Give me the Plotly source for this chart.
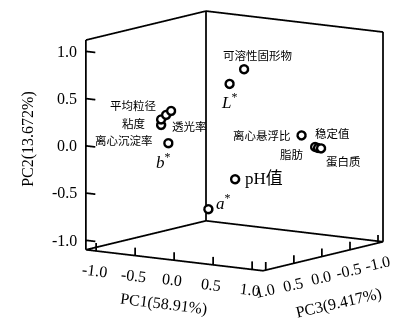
import plotly.graph_objects as go

# ---- data (PCA loadings) ----
names = ["可溶性固形物", "L*", "透光率", "平均粒径", "粘度", "离心沉淀率", "b*",
         "离心悬浮比", "稳定值", "脂肪", "蛋白质", "pH值", "a*"]
pc1 = [0.285, 0.171, -0.543, -0.643, -0.743, -0.779, -0.758,
       0.662, 0.836, 0.874, 0.912, 0.098, -0.173]
pc2 = [0.829, 0.677, 0.328, 0.269, 0.204, 0.135, -0.070,
       0.094, -0.011, -0.018, -0.019, -0.368, -0.697]
pc3 = [0.20, 0.30, 0.35, 0.30, 0.25, 0.20, 0.10,
       -0.30, -0.30, -0.30, -0.30, 0.10, 0.20]
tick_vals = [-1.0, -0.5, 0.0, 0.5, 1.0]
tick_text = ["-1.0", "-0.5", "0.0", "0.5", "1.0"]
pc1_range = [-1.13, 1.14]
pc2_range = [-1.10, 1.12]
pc3_range = [-1.09, 1.05]
titles = {"pc1": "PC1(58.91%)", "pc2": "PC2(13.672%)", "pc3": "PC3(9.417%)"}

# ---- label styling ----
display = {"L*": "<i>L</i><sup>*</sup>", "a*": "<i>a</i><sup>*</sup>",
           "b*": "<i>b</i><sup>*</sup>"}
big = {"L*", "a*", "b*", "pH值"}
lab_anchor = ["center", "center", "left", "right", "right", "right", "center",
              "right", "left", "right", "left", "left", "center"]
lab_dx = [13, -1, -1, -8, -13, -6, -5, -8, -2, -12, 3, 8, 15]
lab_dy = [14, -17, -16, 9, -4, -16, -18, 0, 13, -7, -13, 0, 7]

SERIF = "Liberation Serif, Times New Roman, serif"
CJK = "Liberation Serif, Noto Sans CJK SC, serif"

fig = go.Figure()

# ---- frame (back planes of the box) built from the axis ranges ----
x0, x1 = pc3_range
y0, y1 = pc1_range
z0, z1 = pc2_range
fx, fy, fz = [], [], []
def seg(a, b):
    fx.extend([a[0], b[0], None]); fy.extend([a[1], b[1], None]); fz.extend([a[2], b[2], None])
left_c, front_c, right_c, back_c = (x1, y0), (x1, y1), (x0, y1), (x0, y0)
for p, q in [(left_c, front_c), (front_c, right_c), (right_c, back_c), (back_c, left_c)]:
    seg((p[0], p[1], z0), (q[0], q[1], z0))
for p in [left_c, back_c, right_c]:
    seg((p[0], p[1], z0), (p[0], p[1], z1))
seg((left_c[0], left_c[1], z1), (back_c[0], back_c[1], z1))
seg((back_c[0], back_c[1], z1), (right_c[0], right_c[1], z1))
tz = 0.085 * (z1 - z0) / 2.22
ty = 0.12 * (y1 - y0) / 2.27
for t in tick_vals:
    seg((x1, t, z0), (x1, t, z0 + tz))          # PC1 ticks
    seg((t, y1, z0), (t, y1, z0 + tz))          # PC3 ticks
    seg((x1, y0, t), (x1, y0 + ty, t))          # PC2 ticks
fig.add_trace(go.Scatter3d(x=fx, y=fy, z=fz, mode="lines",
                           line=dict(color="black", width=3.5),
                           hoverinfo="skip", showlegend=False))

# open circles with a thick ring: black disc + smaller white disc on top
fig.add_trace(go.Scatter3d(
    x=pc3, y=pc1, z=pc2, mode="markers",
    marker=dict(symbol="circle", size=6, color="black", opacity=1,
                line=dict(width=0)),
    hoverinfo="skip", showlegend=False))
fig.add_trace(go.Scatter3d(
    x=pc3, y=pc1, z=pc2, mode="markers",
    marker=dict(symbol="circle", size=3.2, color="white", opacity=1,
                line=dict(width=0)),
    hoverinfo="skip", showlegend=False))

annotations = []
for i, n in enumerate(names):
    annotations.append(dict(
        x=pc3[i], y=pc1[i], z=pc2[i], text=display.get(n, n),
        showarrow=False, xanchor=lab_anchor[i], yanchor="middle",
        xshift=lab_dx[i], yshift=lab_dy[i],
        font=dict(family=CJK, size=17 if n in big else 11.5, color="black")))

tfont = dict(family=SERIF, size=16, color="black")
for v, s in zip(tick_vals, tick_text):
    annotations.append(dict(x=x1, y=y0, z=v, text=s, showarrow=False,
                            xanchor="right", yanchor="middle", xshift=-7, font=tfont))
    annotations.append(dict(x=x1, y=v, z=z0, text=s, showarrow=False, textangle=7,
                            xanchor="center", yanchor="middle", xshift=-2, yshift=-20, font=tfont))
    annotations.append(dict(x=v, y=y1, z=z0, text=s, showarrow=False, textangle=-13,
                            xanchor="center", yanchor="middle", xshift=-1, yshift=-21, font=tfont))
annotations.append(dict(x=x1, y=y0, z=0, text=titles["pc2"], showarrow=False, textangle=-90,
                        xanchor="center", yanchor="middle", xshift=-58, yshift=7, font=tfont))
annotations.append(dict(x=x1, y=0, z=z0, text=titles["pc1"], showarrow=False, textangle=7,
                        xanchor="center", yanchor="middle", xshift=-10, yshift=-44, font=tfont))
annotations.append(dict(x=0, y=y1, z=z0, text=titles["pc3"], showarrow=False, textangle=-13,
                        xanchor="center", yanchor="middle", xshift=17, yshift=-47, font=tfont))

hidden = dict(showgrid=False, zeroline=False, showbackground=False, showline=False,
              ticks="", showticklabels=False, showspikes=False, title=dict(text=""))

# axis ranges padded slightly so the frame is never clipped; same scale per unit
pad = 0.04
k = 1.52
per_unit = (0.983 * k / 2.14, 1.016 * k / 2.27, 1.0 * k / 2.22)
xr = [x0 - pad, x1 + pad]; yr = [y0 - pad, y1 + pad]; zr = [z0 - pad, z1 + pad]
asp = (per_unit[0] * (xr[1] - xr[0]), per_unit[1] * (yr[1] - yr[0]), per_unit[2] * (zr[1] - zr[0]))
d = (1.427, 1.0, 0.299)
U = (-0.1385, -0.0971, 0.9857)
sh = 0.0507
c = tuple(-sh * u for u in U)
fig.update_layout(
    width=413, height=323, margin=dict(l=0, r=0, t=0, b=0),
    paper_bgcolor="white", plot_bgcolor="white",
    scene=dict(
        domain=dict(x=[0.1166, 0.9806], y=[0.134, 1.0]),
        xaxis=dict(hidden, range=xr),
        yaxis=dict(hidden, range=yr),
        zaxis=dict(hidden, range=zr),
        aspectmode="manual", aspectratio=dict(x=asp[0], y=asp[1], z=asp[2]),
        camera=dict(eye=dict(x=c[0] + d[0], y=c[1] + d[1], z=c[2] + d[2]),
                    up=dict(x=0, y=0, z=1), center=dict(x=c[0], y=c[1], z=c[2]),
                    projection=dict(type="orthographic")),
        annotations=annotations,
    ))

fig.write_html("out.html")
